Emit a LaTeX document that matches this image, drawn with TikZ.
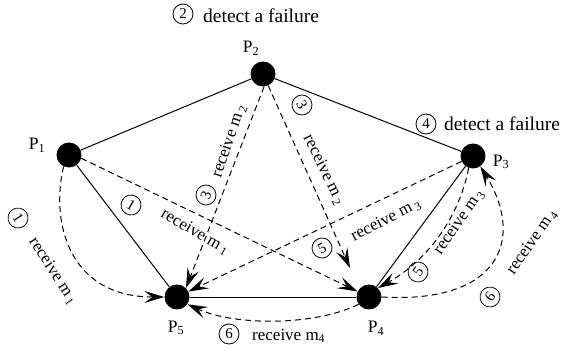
\documentclass[tikz,border=0pt]{standalone}
\usepackage{fontspec}
\setmainfont{Liberation Serif}
\usetikzlibrary{arrows.meta}
\begin{document}
\begin{tikzpicture}[x=1pt,y=1pt,
  dot/.style={circle,fill=black,minimum size=25pt,inner sep=0pt},
  plab/.style={font=\fontsize{17.5}{17.5}\selectfont,inner sep=0pt},
  rlab/.style={font=\fontsize{17}{17}\selectfont,inner sep=0pt},
  dlab/.style={font=\fontsize{19.5}{19.5}\selectfont,inner sep=0pt},
  cnum/.style={circle,draw,line width=0.8pt,minimum size=20pt,inner sep=0pt,font=\fontsize{15}{15}\selectfont},
  edge/.style={line width=1pt},
  msg/.style={line width=1pt,dash pattern=on 6pt off 4pt,-{Stealth[length=20pt,width=12pt,inset=8pt]}}
]
\useasboundingbox (0,0) rectangle (563,354);
% processes
\node[dot] (p1) at (69,199) {};
\node[dot] (p2) at (263,280) {};
\node[dot] (p3) at (473,198) {};
\node[dot] (p4) at (369,57) {};
\node[dot] (p5) at (177,57) {};
\node[plab] (lp1) at (37,209) {P\textsubscript{1}};
\node[plab] (lp2) at (251,306) {P\textsubscript{2}};
\node[plab] (lp3) at (501,192) {P\textsubscript{3}};
\node[plab] (lp4) at (376,26) {P\textsubscript{4}};
\node[plab] (lp5) at (176,26) {P\textsubscript{5}};
\coordinate (t24) at (350,86);
% solid links
\draw[edge] (p1) -- (p2);
\draw[edge] (p2) -- (p3);
\draw[edge] (p1) -- (p5);
\draw[edge] (p5) -- (p4);
\draw[edge] (p4) -- (p3);
% messages
\draw[msg] (p1.245) .. controls (50,130) and (70,57) .. (p5);
\draw[msg] (p1.-15) -- (p4);
\draw[msg] (p2.275) -- (p5.45);
\draw[msg] (p2) -- (t24);
\draw[msg] (p3) -- (p5);
\draw[msg] (p3.250) .. controls (460,140) and (430,95) .. (p4.45);
\draw[msg] (p4.east) .. controls (500,50) and (525,115) .. (p3.305);
\draw[msg] (p4.215) .. controls (315,28) and (235,28) .. (p5.325);
% labels
\node[cnum] (c2) at (183,340) {2};
\node[dlab,anchor=base west] (d2) at (203,331.3) {detect a failure};
\node[cnum] (c4) at (426,230) {4};
\node[dlab,anchor=base west] (d4) at (444,223) {detect a failure};
\node[cnum] (c6b) at (229,20) {6};
\node[rlab,anchor=base west] (r6b) at (252,14) {receive m\textsubscript{4}};
\node[cnum,rotate=-57] (c1a) at (18,136) {1};
\node[rlab,rotate=-57] (r1a) at (53,83) {receive m\,\textsubscript{1}};
\node[cnum,rotate=-30] (c1b) at (131,149) {1};
\node[rlab,rotate=-30] (r1b) at (195,122) {receive m\,\textsubscript{1}};
\node[cnum,rotate=71] (c3a) at (206,159) {3};
\node[rlab,rotate=71] (r3a) at (229,213) {receive m\,\textsubscript{2}};
\node[cnum,rotate=-64] (c3b) at (302,249) {3};
\node[rlab,rotate=-64] (r3b) at (324,184) {receive m\,\textsubscript{2}};
\node[cnum,rotate=27] (c5a) at (322,106) {5};
\node[rlab,rotate=27] (r5a) at (386,134) {receive m\,\textsubscript{3}};
\node[cnum,rotate=55] (c5b) at (418,82) {5};
\node[rlab,rotate=55] (r5b) at (459,132) {receive m\,\textsubscript{3}};
\node[cnum,rotate=55] (c6a) at (490,57) {6};
\node[rlab,rotate=55] (r6a) at (532,112) {receive m\,\textsubscript{4}};
\end{tikzpicture}
\end{document}
